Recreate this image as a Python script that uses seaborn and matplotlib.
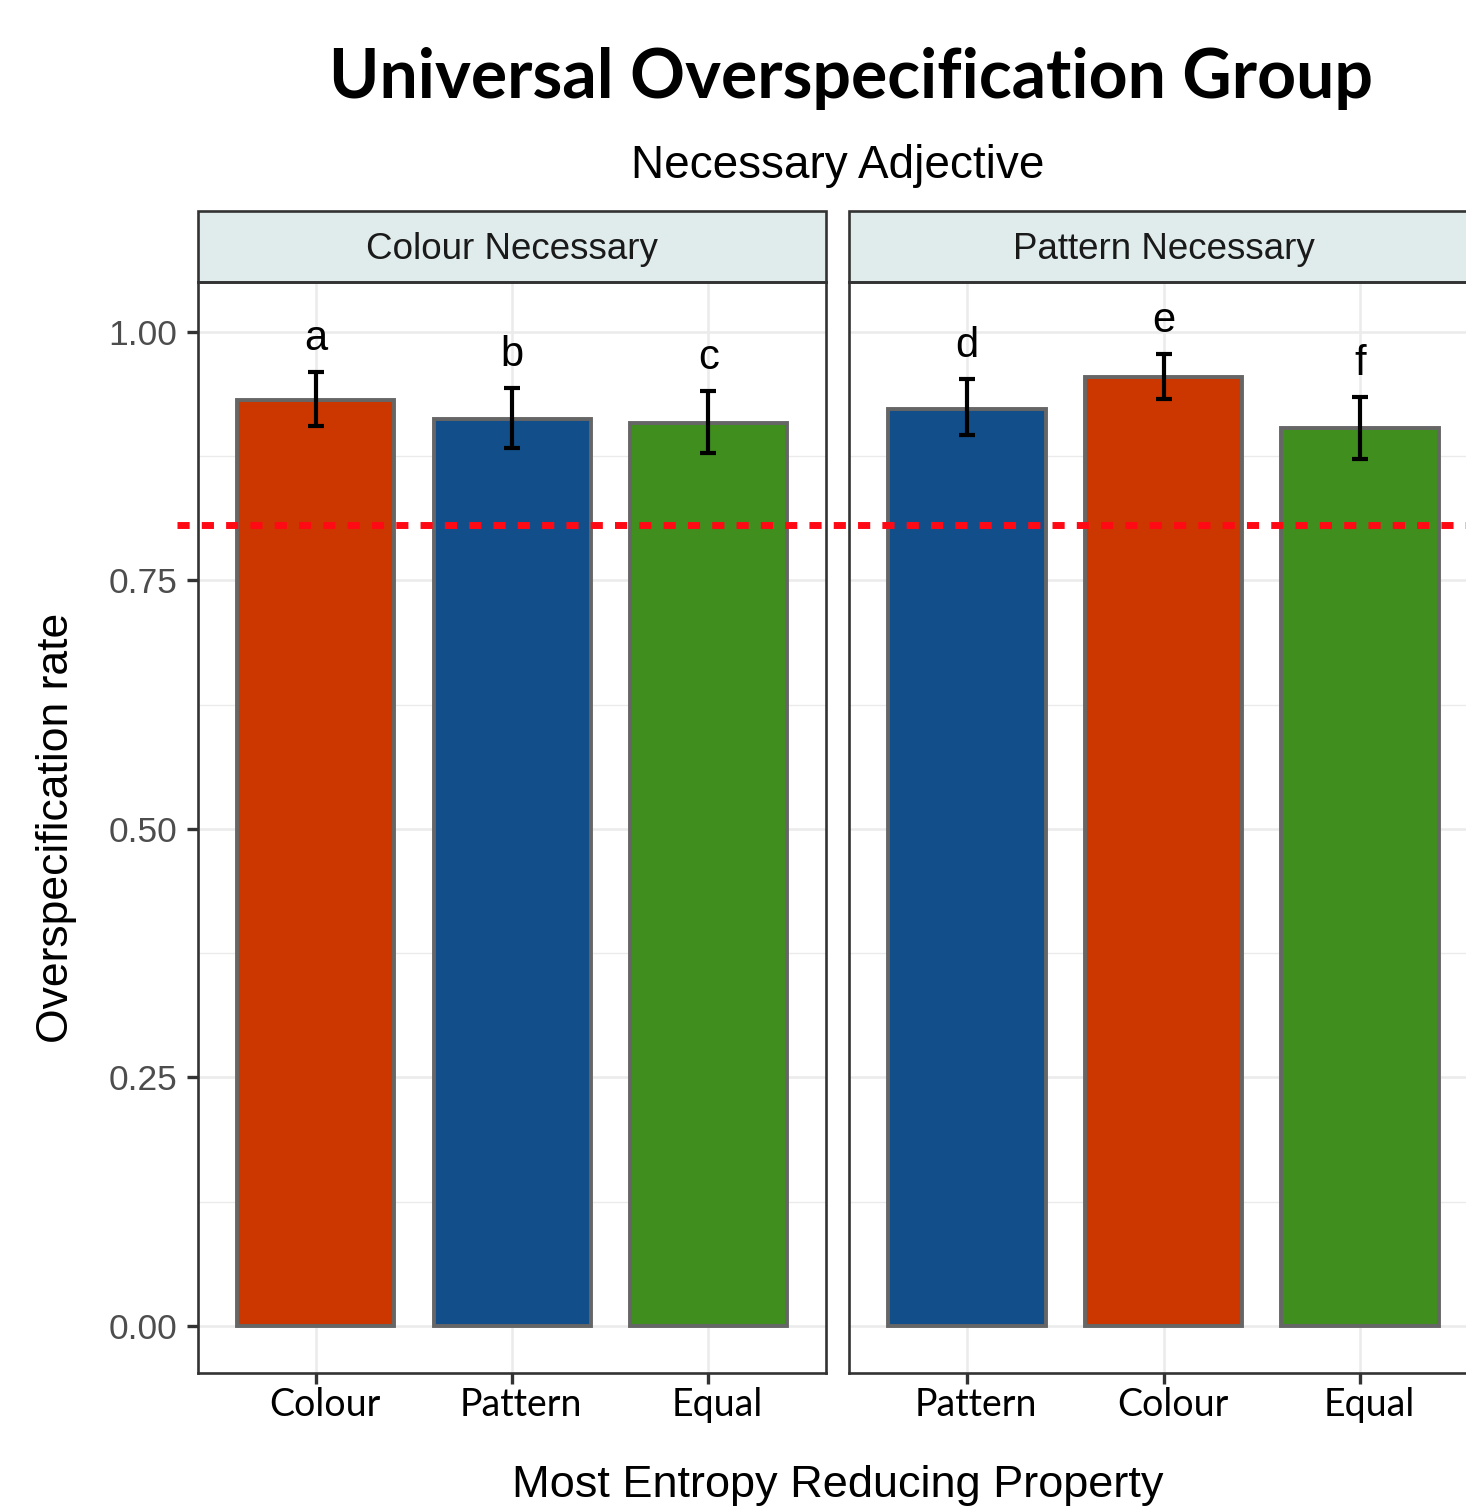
import numpy as np
import pandas as pd
import seaborn as sns
import matplotlib.pyplot as plt
from matplotlib.patches import Rectangle
from matplotlib.lines import Line2D
from matplotlib.transforms import blended_transform_factory, ScaledTranslation

# ---- data ----
panels = ["Colour Necessary", "Pattern Necessary"]
colour_nec_props = ["Colour", "Pattern", "Equal"]
pattern_nec_props = ["Pattern", "Colour", "Equal"]
colour_nec_rate = [0.932, 0.912, 0.908]
pattern_nec_rate = [0.923, 0.955, 0.903]
colour_nec_lo = [0.905, 0.883, 0.878]
colour_nec_hi = [0.960, 0.944, 0.941]
pattern_nec_lo = [0.896, 0.933, 0.872]
pattern_nec_hi = [0.953, 0.978, 0.935]
colour_nec_letters = ["a", "b", "c"]
pattern_nec_letters = ["d", "e", "f"]
baseline_rate = 0.806
y_ticks = [0.00, 0.25, 0.50, 0.75, 1.00]
y_tick_labels = ["0.00", "0.25", "0.50", "0.75", "1.00"]

palette = {"Colour": "#CC3700", "Pattern": "#124F8A", "Equal": "#3F8E1E"}

sns.set_theme(style="white")
plt.rcParams["font.family"] = ["Liberation Sans", "DejaVu Sans"]
plt.rcParams["text.color"] = "black"

W, H = 1466, 1509
fig = plt.figure(figsize=(W / 100, H / 100), dpi=100)

def fx(px):
    return px / W

def fy(py):
    return 1 - py / H

panel_top, panel_bot = 282, 1373
axL = fig.add_axes([fx(198), fy(panel_bot), fx(628), (panel_bot - panel_top) / H])
axR = fig.add_axes([fx(849), fy(panel_bot), fx(629), (panel_bot - panel_top) / H])

panel_data = [
    (axL, panels[0], colour_nec_props, colour_nec_rate, colour_nec_lo, colour_nec_hi, colour_nec_letters),
    (axR, panels[1], pattern_nec_props, pattern_nec_rate, pattern_nec_lo, pattern_nec_hi, pattern_nec_letters),
]

strip_h = 71 / (panel_bot - panel_top)

for ax, title, props, rate, lo, hi, letters in panel_data:
    df = pd.DataFrame({"prop": props, "rate": rate})
    sns.barplot(data=df, x="prop", y="rate", hue="prop", order=props,
                palette=palette, saturation=1, width=0.8, edgecolor="#666666",
                linewidth=2.8, errorbar=None, legend=False, ax=ax, zorder=3)
    rate_a = np.array(rate)
    pos = np.arange(len(props))
    ax.errorbar(pos, rate_a, yerr=[rate_a - np.array(lo), np.array(hi) - rate_a],
                fmt="none", ecolor="black", elinewidth=3.0, capsize=6,
                capthick=3.0, zorder=4)
    for i, (h, lab) in enumerate(zip(hi, letters)):
        ax.text(i, h + 0.022, lab, ha="center", va="baseline", fontsize=30,
                color="black", zorder=5)

    ax.set_xlim(-0.6, 2.6)
    ax.set_ylim(-0.0473, 1.0503)
    ax.set_yticks(y_ticks)
    ax.set_yticks([0.125, 0.375, 0.625, 0.875], minor=True)
    ax.grid(True, which="major", color="#EBEBEB", linewidth=1.8, zorder=0)
    ax.grid(True, which="minor", axis="y", color="#EBEBEB", linewidth=1.0, zorder=0)
    ax.set_axisbelow(True)
    ax.set_xlabel("")
    ax.set_ylabel("")
    for sp in ax.spines.values():
        sp.set_visible(True)
        sp.set_color("#333333")
        sp.set_linewidth(1.9)
    ax.tick_params(axis="x", which="major", length=8, width=2.4, color="#333333",
                   pad=2, labelsize=27, labelcolor="black", bottom=True)
    ax.tick_params(axis="y", which="minor", length=0)
    for lbl in ax.get_xticklabels():
        lbl.set_fontfamily(["Lato", "DejaVu Sans"])
        lbl.set_transform(lbl.get_transform() + ScaledTranslation(0.09, 0, fig.dpi_scale_trans))

    # facet strip
    ax.add_patch(Rectangle((0, 1), 1, strip_h, transform=ax.transAxes,
                           facecolor="#DFECEB", edgecolor="#333333", linewidth=1.9,
                           clip_on=False, zorder=1))
    ax.text(0.5, 1 + strip_h / 2 - 0.003, title, transform=ax.transAxes, ha="center",
            va="center", fontsize=26.5, color="#1A1A1A")

axL.set_yticklabels(y_tick_labels)
axL.tick_params(axis="y", which="major", length=8, width=2.4, color="#333333",
                pad=7, labelsize=25.5, labelcolor="#4D4D4D", left=True)
axR.tick_params(axis="y", which="major", length=0, labelleft=False)

# reference rate across both panels
ref = Line2D([fx(177), 1.0], [baseline_rate, baseline_rate],
             transform=blended_transform_factory(fig.transFigure, axL.transData),
             color="#FF0A14", linewidth=5.0, linestyle=(0, (1.75, 1.75)), zorder=10)
fig.add_artist(ref)

fig.text(fx(851), fy(98), "Universal Overspecification Group", ha="center",
         va="baseline", fontsize=49, fontweight="bold", color="black",
         family=["Lato", "DejaVu Sans"])
fig.text(fx(838), fy(178), "Necessary Adjective", ha="center", va="baseline",
         fontsize=33, color="black")
fig.text(fx(57), fy(828), "Overspecification rate", ha="center", va="center",
         rotation=90, fontsize=32, color="black")
fig.text(fx(838), fy(1497), "Most Entropy Reducing Property", ha="center",
         va="baseline", fontsize=32.5, color="black")

fig.savefig("out.png", dpi=100)
